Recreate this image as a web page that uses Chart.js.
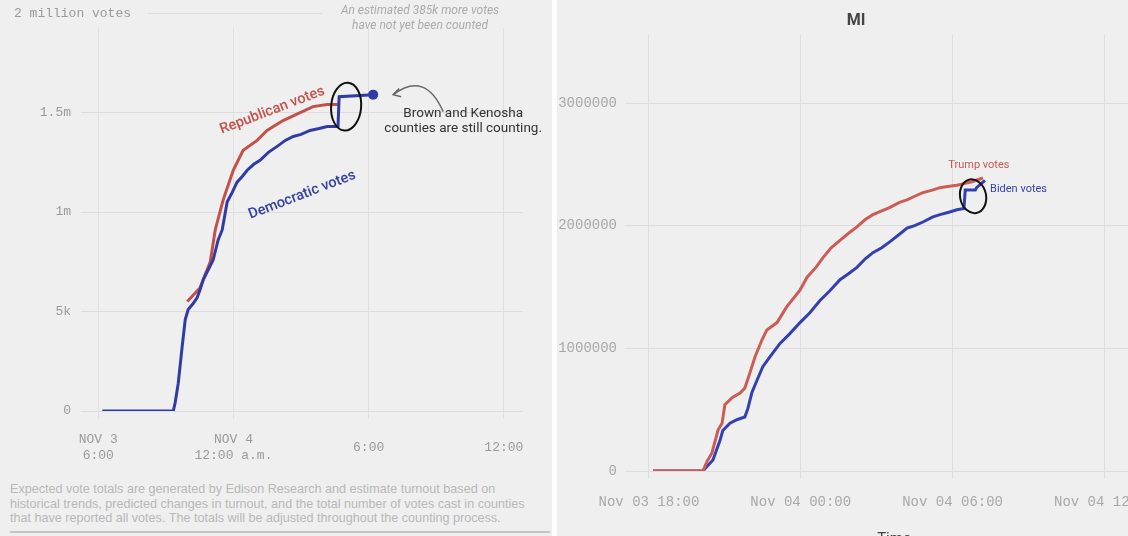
<!DOCTYPE html>
<html>
<head>
<meta charset="utf-8">
<script src="https://cdn.jsdelivr.net/npm/chart.js@4.4.1/dist/chart.umd.min.js"></script>
<style>
  html, body { margin: 0; padding: 0; width: 1128px; height: 536px; overflow: hidden; background: #fff; }
  #left { position: absolute; left: 0; top: 0; width: 552px; height: 536px; background: #efefef; }
  #right { position: absolute; left: 557px; top: 0; width: 571px; height: 536px; background: #efefef; overflow: hidden; }
  canvas { position: absolute; left: 0; top: 0; }
  #note { position: absolute; left: 10px; top: 482px; font: 12.6px "Liberation Sans", Arial, sans-serif;
          color: #b8b8b8; line-height: 14.5px; white-space: nowrap; }
  #rule { position: absolute; left: 10px; top: 531px; width: 540px; height: 2px; background: #c4c4c4; }
</style>
</head>
<body>
<div id="left">
  <canvas id="wiChart" width="552" height="475"></canvas>
  <div id="note">Expected vote totals are generated by Edison Research and estimate turnout based on<br>
historical trends, predicted changes in turnout, and the total number of votes cast in counties<br>
that have reported all votes. The totals will be adjusted throughout the counting process.</div>
  <div id="rule"></div>
</div>
<div id="right">
  <canvas id="miChart" width="620" height="560"></canvas>
</div>
<script>
// ---- left panel (hours after Nov 3 6:00 p.m., votes) ----
const wiDemHours = [0.18, 3.33, 3.41, 3.55, 3.72, 3.86, 3.99, 4.21, 4.39, 4.52, 4.66, 4.88, 5.1, 5.32, 5.5, 5.72,
  5.95, 6.16, 6.4, 6.61, 6.9, 7.18, 7.55, 7.94, 8.3, 8.65, 9.0, 9.4, 9.8, 10.16, 10.64, 10.69, 12.2];
const wiDemVotes = [0, 0, 40000, 140000, 320000, 460000, 510000, 540000, 570000, 610000, 660000, 710000, 760000,
  860000, 910000, 1050000, 1100000, 1150000, 1180000, 1210000, 1240000, 1260000, 1300000, 1330000, 1360000,
  1380000, 1390000, 1410000, 1420000, 1430000, 1430000, 1580000, 1590000];
const wiRepHours = [3.95, 4.52, 4.97, 5.19, 5.54, 5.99, 6.43, 7.05, 7.49, 8.2, 8.96, 9.53, 10.16, 10.73];
const wiRepVotes = [550000, 620000, 750000, 910000, 1060000, 1210000, 1310000, 1360000, 1410000, 1460000,
  1500000, 1530000, 1540000, 1540000];
const wiTickHours = [0, 6, 12, 18];
const wiTickLabels = [['NOV 3', '6:00'], ['NOV 4', '12:00 a.m.'], '6:00', '12:00'];
const wiVoteTicks = [0, 500000, 1000000, 1500000];
const wiVoteLabels = ['0', '5k', '1m', '1.5m'];

// ---- right panel (hours after Nov 03 18:00, votes) ----
const miTrumpHours = [0.16, 2.13, 2.3, 2.49, 2.73, 2.89, 3.0, 3.3, 3.6, 3.79, 3.99, 4.19, 4.47, 4.66, 5.06, 5.45,
  5.97, 6.25, 6.6, 6.88, 7.2, 7.55, 7.9, 8.22, 8.55, 8.85, 9.2, 9.53, 9.9, 10.2, 10.5, 10.83, 11.2, 11.5, 11.8,
  12.17, 12.5, 12.8, 13.2];
const miTrumpVotes = [0, 0, 80000, 147000, 334000, 390000, 540000, 600000, 635000, 676000, 800000, 930000,
  1070000, 1150000, 1210000, 1340000, 1475000, 1580000, 1660000, 1740000, 1820000, 1880000, 1940000, 1990000,
  2050000, 2090000, 2120000, 2150000, 2190000, 2210000, 2240000, 2270000, 2290000, 2310000, 2320000, 2330000,
  2345000, 2360000, 2390000];
const miBidenHours = [0.16, 2.13, 2.53, 2.81, 2.92, 3.2, 3.5, 3.79, 3.91, 4.07, 4.27, 4.5, 4.78, 5.18, 5.57, 5.97,
  6.36, 6.76, 7.15, 7.55, 7.9, 8.22, 8.55, 8.85, 9.2, 9.53, 9.9, 10.2, 10.5, 10.83, 11.2, 11.5, 11.85, 12.17,
  12.45, 12.5, 12.9, 12.95, 13.28];
const miBidenVotes = [0, 0, 90000, 250000, 330000, 390000, 420000, 440000, 510000, 640000, 740000, 850000, 930000,
  1040000, 1120000, 1210000, 1290000, 1390000, 1470000, 1560000, 1610000, 1660000, 1730000, 1780000, 1820000,
  1870000, 1930000, 1980000, 2000000, 2030000, 2070000, 2090000, 2110000, 2130000, 2140000, 2290000, 2290000,
  2310000, 2370000];
const miTickHours = [0, 6, 12, 18];
const miTickLabels = ['Nov 03 18:00', 'Nov 04 00:00', 'Nov 04 06:00', 'Nov 04 12:00'];
const miVoteTicks = [0, 1000000, 2000000, 3000000];

const toPoints = (xs, ys) => xs.map((x, i) => ({ x: x, y: ys[i] }));
const mono = 'Liberation Mono, DejaVu Sans Mono, monospace';

// hand-drawn circle
const drawEllipse = (ctx, cx, cy, rx, ry, rot) => {
  ctx.strokeStyle = '#111';
  ctx.lineWidth = 2;
  ctx.beginPath();
  ctx.ellipse(cx, cy, rx, ry, rot, 0, Math.PI * 2);
  ctx.stroke();
};

const wiNotes = {
  id: 'wiNotes',
  afterDraw(chart) {
    const { ctx, scales: { x, y } } = chart;
    ctx.save();
    // top axis label and its short gridline
    const y2m = y.getPixelForValue(2000000);
    ctx.font = '13px ' + mono;
    ctx.fillStyle = '#9a9a9a';
    ctx.textAlign = 'left';
    ctx.textBaseline = 'middle';
    ctx.fillText('2 million votes', 14, y2m);
    ctx.strokeStyle = '#dcdcdc';
    ctx.lineWidth = 1;
    ctx.beginPath();
    ctx.moveTo(148, y2m + 0.5);
    ctx.lineTo(323, y2m + 0.5);
    ctx.stroke();

    ctx.font = 'italic 12px Roboto, sans-serif';
    ctx.fillStyle = '#ababab';
    ctx.textAlign = 'center';
    ctx.fillText('An estimated 385k more votes', 420, 11);
    ctx.fillText('have not yet been counted', 420, 26);

    // series labels
    const tilted = (text, h, v, color) => {
      ctx.save();
      ctx.translate(x.getPixelForValue(h), y.getPixelForValue(v));
      ctx.rotate(-21 * Math.PI / 180);
      ctx.font = '500 14.5px Roboto, sans-serif';
      ctx.fillStyle = color;
      ctx.fillText(text, 0, 0);
      ctx.restore();
    };
    tilted('Republican votes', 7.72, 1510000, '#c4504b');
    tilted('Democratic votes', 9.05, 1085000, '#3340a6');

    drawEllipse(ctx, x.getPixelForValue(11.0), y.getPixelForValue(1530000), 15, 24, 0.08);

    // arrow and note at the end of the blue line
    const n = wiDemHours.length - 1;
    const px = x.getPixelForValue(wiDemHours[n]);
    const py = y.getPixelForValue(wiDemVotes[n]);
    ctx.strokeStyle = '#666';
    ctx.lineWidth = 1.5;
    ctx.beginPath();
    ctx.moveTo(px + 70, py + 17);
    ctx.quadraticCurveTo(px + 52, py - 24, px + 20, py);
    ctx.stroke();
    ctx.beginPath();
    ctx.moveTo(px + 26, py - 6);
    ctx.lineTo(px + 20, py);
    ctx.lineTo(px + 28, py + 2);
    ctx.stroke();

    ctx.font = '13.5px Roboto, sans-serif';
    ctx.fillStyle = '#333';
    ctx.textAlign = 'center';
    ctx.fillText('Brown and Kenosha', px + 90, py + 19);
    ctx.fillText('counties are still counting.', px + 90, py + 34);
    ctx.restore();
  }
};

new Chart(document.getElementById('wiChart'), {
  type: 'line',
  data: {
    datasets: [{
      label: 'Democratic votes',
      data: toPoints(wiDemHours, wiDemVotes),
      borderColor: '#2f3ca8',
      backgroundColor: '#2f3ca8',
      borderWidth: 3,
      pointRadius: ctx => ctx.dataIndex === wiDemHours.length - 1 ? 5 : 0,
      pointBorderWidth: 0
    }, {
      label: 'Republican votes',
      data: toPoints(wiRepHours, wiRepVotes),
      borderColor: '#c4504b',
      borderWidth: 3,
      pointRadius: 0
    }]
  },
  options: {
    responsive: false,
    animation: false,
    layout: { padding: { top: 28, right: 29, left: 0, bottom: 0 } },
    plugins: { legend: { display: false }, tooltip: { enabled: false } },
    scales: {
      x: {
        type: 'linear',
        min: -0.5,
        max: 18.85,
        afterBuildTicks: s => { s.ticks = wiTickHours.map(v => ({ value: v })); },
        afterFit: s => { s.height = 64; },
        grid: { color: '#e0e0e0', tickLength: 8 },
        border: { display: false },
        ticks: {
          callback: (v, i) => wiTickLabels[i],
          font: { family: mono, size: 13 },
          color: '#9a9a9a',
          padding: 21,
          crossAlign: 'center',
          maxRotation: 0,
          autoSkip: false
        }
      },
      y: {
        min: 0,
        max: 1925000,
        afterBuildTicks: s => { s.ticks = wiVoteTicks.map(v => ({ value: v })); },
        afterFit: s => { s.width = 87; },
        grid: { color: '#dcdcdc', tickLength: 6 },
        border: { display: false },
        ticks: {
          callback: (v, i) => wiVoteLabels[i],
          font: { family: mono, size: 13 },
          color: '#9a9a9a',
          padding: 10
        }
      }
    }
  },
  plugins: [wiNotes]
});

const miNotes = {
  id: 'miNotes',
  afterDraw(chart) {
    const { ctx, scales: { x, y } } = chart;
    ctx.save();
    ctx.font = '11px Roboto, sans-serif';
    ctx.textBaseline = 'middle';
    ctx.textAlign = 'center';
    ctx.fillStyle = '#c85a52';
    ctx.fillText('Trump votes', x.getPixelForValue(13.04), y.getPixelForValue(2490000));
    ctx.textAlign = 'left';
    ctx.fillStyle = '#3442b4';
    ctx.fillText('Biden votes', x.getPixelForValue(13.48), y.getPixelForValue(2300000));
    drawEllipse(ctx, x.getPixelForValue(12.81), y.getPixelForValue(2240000), 13, 17, -0.2);
    ctx.restore();
  }
};

new Chart(document.getElementById('miChart'), {
  type: 'line',
  data: {
    datasets: [{
      label: 'Trump votes',
      data: toPoints(miTrumpHours, miTrumpVotes),
      borderColor: '#cc5c54',
      borderWidth: 3,
      pointRadius: 0
    }, {
      label: 'Biden votes',
      data: toPoints(miBidenHours, miBidenVotes),
      borderColor: '#3340b4',
      borderWidth: 3,
      pointRadius: 0
    }]
  },
  options: {
    responsive: false,
    animation: false,
    layout: { padding: { top: 0, right: 22, left: 0, bottom: 0 } },
    plugins: {
      legend: { display: false },
      tooltip: { enabled: false },
      title: {
        display: true,
        text: 'MI',
        color: '#444',
        font: { family: 'Roboto', size: 16, weight: 'bold' },
        padding: { top: 11, bottom: 5 }
      }
    },
    scales: {
      x: {
        type: 'linear',
        min: -0.63,
        max: 20,
        afterBuildTicks: s => { s.ticks = miTickHours.map(v => ({ value: v })); },
        afterFit: s => { s.height = 89; },
        grid: { color: '#dddddd', tickLength: 8 },
        border: { display: false },
        title: {
          display: true,
          text: 'Time',
          color: '#444',
          font: { family: 'Roboto', size: 15 },
          padding: { top: 4, bottom: 12 }
        },
        ticks: {
          callback: (v, i) => miTickLabels[i],
          font: { family: mono, size: 14 },
          color: '#a8a8a8',
          padding: 15,
          maxRotation: 0,
          autoSkip: false
        }
      },
      y: {
        min: 0,
        max: 3553000,
        afterBuildTicks: s => { s.ticks = miVoteTicks.map(v => ({ value: v })); },
        afterFit: s => { s.width = 76; },
        grid: { color: '#dddddd', tickLength: 8 },
        border: { display: false },
        ticks: {
          callback: v => String(v),
          font: { family: mono, size: 14 },
          color: '#a8a8a8',
          padding: 8
        }
      }
    }
  },
  plugins: [miNotes]
});
</script>
</body>
</html>
